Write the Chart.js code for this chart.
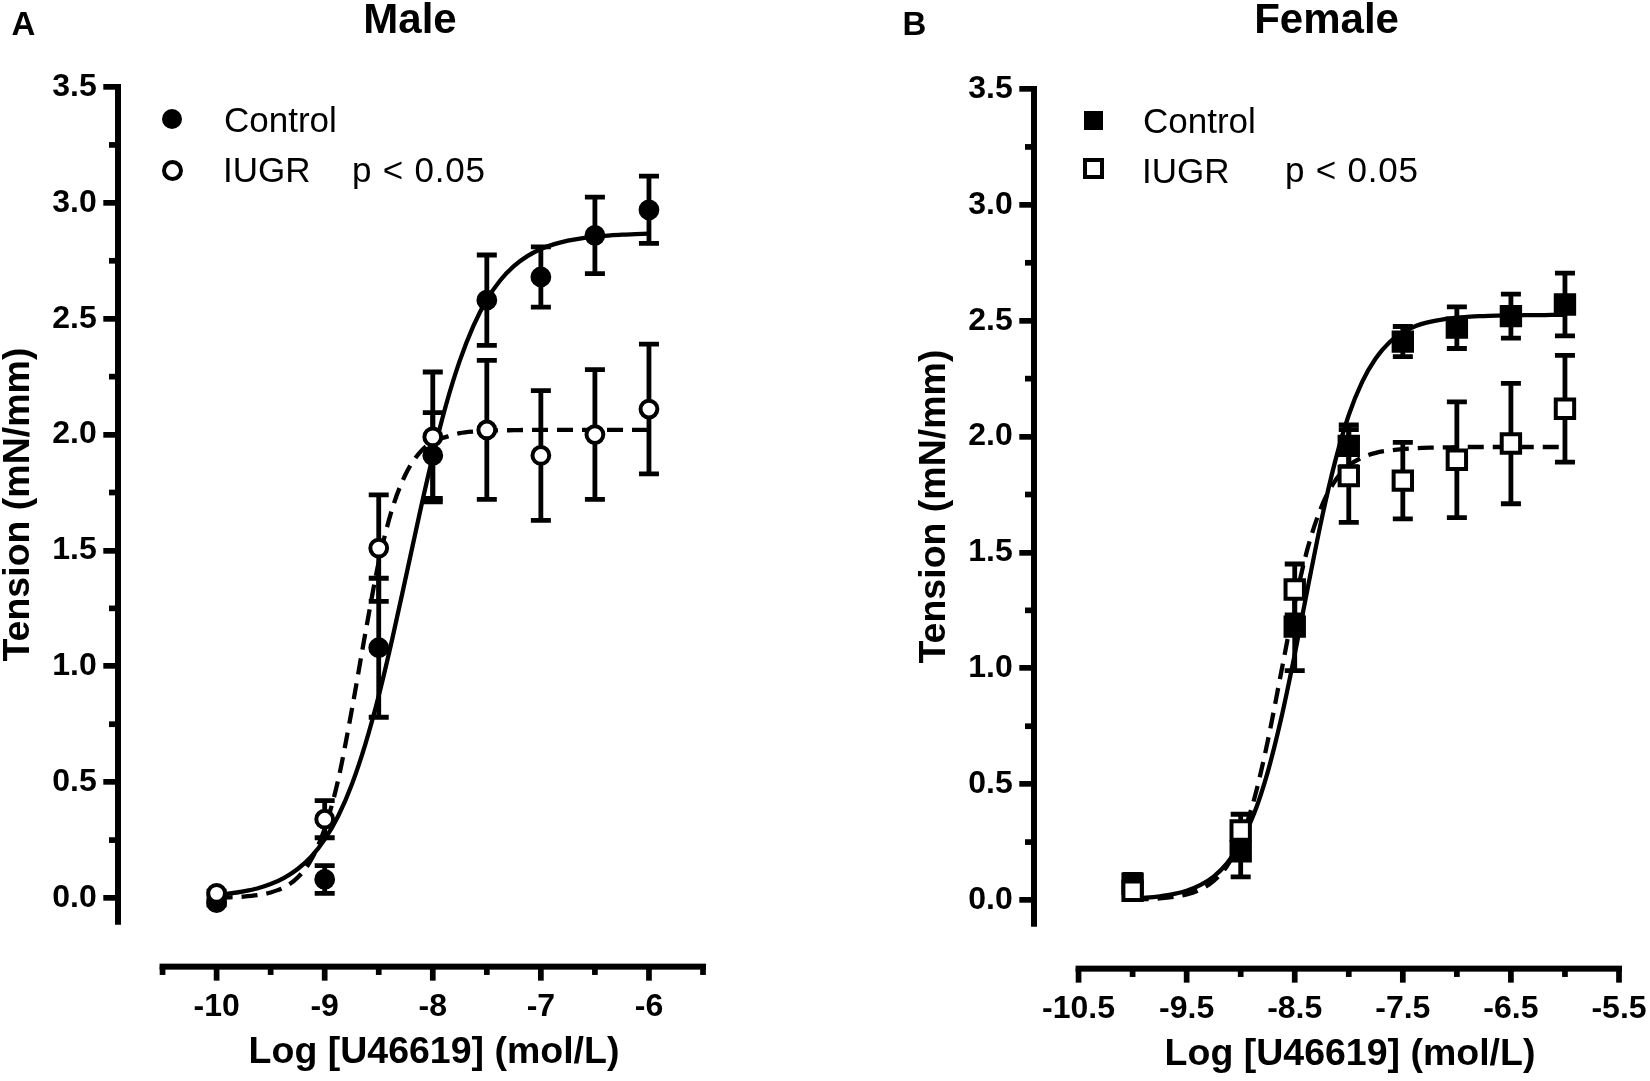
<!DOCTYPE html>
<html>
<head>
<meta charset="utf-8">
<script src="https://cdn.jsdelivr.net/npm/chart.js@4.4.1/dist/chart.umd.min.js"></script>
<style>
html,body{margin:0;padding:0;background:#fff;width:1650px;height:1081px;overflow:hidden;}
body{position:relative;font-family:"Liberation Sans",Arial,Helvetica,sans-serif;color:#000;}
canvas{position:absolute;}
.t{position:absolute;white-space:nowrap;line-height:1;}
.b{font-weight:bold;}
.title{font-size:42px;font-weight:bold;transform:translateX(-50%);}
.leg{font-size:35px;}
.mk{position:absolute;box-sizing:border-box;}
</style>
</head>
<body>
<canvas id="male" width="780" height="1081" style="left:0px;top:0px"></canvas>
<canvas id="female" width="780" height="1081" style="left:916px;top:2px"></canvas>

<div class="t b" style="left:11.5px;top:6.5px;font-size:33px;">A</div>
<div class="t b" style="left:902.5px;top:6.5px;font-size:33px;">B</div>
<div class="t title" style="left:410px;top:-2.2px;">Male</div>
<div class="t title" style="left:1326.6px;top:-2.2px;">Female</div>

<!-- legend male -->
<div class="mk" style="left:162px;top:109.3px;width:20px;height:20px;border-radius:50%;background:#000;"></div>
<div class="mk" style="left:161.5px;top:160.2px;width:21px;height:21px;border-radius:50%;background:#fff;border:4px solid #000;"></div>
<div class="t leg" style="left:224px;top:102px;">Control</div>
<div class="t leg" style="left:223px;top:152px;">IUGR</div>
<div class="t leg" style="left:352px;top:152px;letter-spacing:0.8px;">p &lt; 0.05</div>

<!-- legend female -->
<div class="mk" style="left:1083.5px;top:110.5px;width:19px;height:19px;background:#000;"></div>
<div class="mk" style="left:1082.5px;top:157.5px;width:21px;height:21px;background:#fff;border:4px solid #000;"></div>
<div class="t leg" style="left:1143px;top:103px;">Control</div>
<div class="t leg" style="left:1142px;top:153px;">IUGR</div>
<div class="t leg" style="left:1285px;top:152px;letter-spacing:0.8px;">p &lt; 0.05</div>

<script>
// ---------------- data ----------------
const doses = [-10, -9, -8.5, -8, -7.5, -7, -6.5, -6];

const maleControl    = [-0.02, 0.08, 1.08, 1.91, 2.58, 2.68, 2.86, 2.97];
const maleControlSem = [0.01, 0.06, 0.30, 0.185, 0.195, 0.13, 0.165, 0.145];
const maleIugr       = [0.02, 0.34, 1.51, 1.99, 2.02, 1.91, 2.00, 2.11];
const maleIugrSem    = [0.01, 0.08, 0.23, 0.28, 0.30, 0.28, 0.28, 0.28];

const femaleControl    = [0.07, 0.21, 1.18, 1.96, 2.41, 2.47, 2.52, 2.57];
const femaleControlSem = [0.04, 0.11, 0.19, 0.09, 0.065, 0.09, 0.095, 0.135];
const femaleIugr       = [0.04, 0.30, 1.34, 1.83, 1.81, 1.90, 1.97, 2.12];
const femaleIugrSem    = [0.03, 0.07, 0.11, 0.20, 0.165, 0.25, 0.26, 0.23];

// fitted curves
const curveX = [-10, -9.875, -9.75, -9.625, -9.5, -9.375, -9.25, -9.125, -9, -8.875, -8.75, -8.625,
                -8.5, -8.375, -8.25, -8.125, -8, -7.875, -7.75, -7.625, -7.5, -7.375, -7.25, -7.125,
                -7, -6.875, -6.75, -6.625, -6.5, -6.375, -6.25, -6.125, -6];
const maleControlCurve = [0.014, 0.020, 0.029, 0.041, 0.060, 0.087, 0.125, 0.178, 0.253, 0.354, 0.489, 0.662,
                          0.873, 1.118, 1.383, 1.652, 1.906, 2.132, 2.319, 2.468, 2.582, 2.666, 2.727, 2.770,
                          2.801, 2.822, 2.837, 2.847, 2.854, 2.859, 2.863, 2.865, 2.867];
const maleIugrCurve    = [0.002, 0.003, 0.006, 0.012, 0.024, 0.046, 0.088, 0.165, 0.30, 0.51, 0.81, 1.14,
                          1.45, 1.68, 1.83, 1.92, 1.97, 1.99, 2.006, 2.013, 2.016, 2.018, 2.019, 2.02,
                          2.02, 2.02, 2.02, 2.02, 2.02, 2.02, 2.02, 2.02, 2.02];
const femaleControlCurve = [0.006, 0.010, 0.016, 0.025, 0.040, 0.064, 0.101, 0.159, 0.247, 0.374, 0.552, 0.784,
                            1.060, 1.358, 1.646, 1.895, 2.093, 2.237, 2.338, 2.406, 2.449, 2.478, 2.495, 2.506,
                            2.513, 2.518, 2.520, 2.522, 2.523, 2.524, 2.524, 2.525, 2.525];
const femaleIugrCurve    = [0.002, 0.004, 0.007, 0.013, 0.024, 0.045, 0.082, 0.148, 0.26, 0.436, 0.685, 0.983,
                            1.28, 1.527, 1.70, 1.81, 1.875, 1.91, 1.93, 1.94, 1.946, 1.95, 1.952, 1.953,
                            1.954, 1.955, 1.955, 1.955, 1.955, 1.955, 1.955, 1.955, 1.955];

// ticks
const yTicks = [0, 0.5, 1, 1.5, 2, 2.5, 3, 3.5];
const yMinorTicks = [0.25, 0.75, 1.25, 1.75, 2.25, 2.75, 3.25];
const maleXTicks = [-10, -9, -8, -7, -6];
const maleXMinor = [-10.5, -9.5, -8.5, -7.5, -6.5, -5.5];
const femaleXTicks = [-10.5, -9.5, -8.5, -7.5, -6.5, -5.5];
const femaleXMinor = [-10, -9, -8, -7, -6];

const xTitle = 'Log [U46619] (mol/L)';
const yTitle = 'Tension (mN/mm)';

// ---------------- drawing ----------------
const FONT = '"Liberation Sans", Arial, Helvetica, sans-serif';

const errorBars = {
  id: 'errorBars',
  beforeDatasetDraw(chart, args) {
    const ds = chart.data.datasets[args.index];
    if (!ds.errors) return;
    const xs = chart.scales.x, ys = chart.scales.y, ctx = chart.ctx;
    ctx.save();
    ctx.strokeStyle = '#000';
    ctx.lineWidth = 4.8;
    ctx.lineCap = 'butt';
    ds.data.forEach((p, i) => {
      const e = ds.errors[i];
      if (!e) return;
      const px = xs.getPixelForValue(p.x);
      const top = ys.getPixelForValue(p.y + e);
      const bot = ys.getPixelForValue(p.y - e);
      ctx.beginPath();
      ctx.moveTo(px, top); ctx.lineTo(px, bot);
      ctx.moveTo(px - 10, top); ctx.lineTo(px + 10, top);
      ctx.moveTo(px - 10, bot); ctx.lineTo(px + 10, bot);
      ctx.stroke();
    });
    ctx.restore();
  }
};

const axesExtra = {
  id: 'axesExtra',
  afterDraw(chart) {
    const o = chart.options.plugins.axesExtra;
    const xs = chart.scales.x, ys = chart.scales.y, ctx = chart.ctx, ca = chart.chartArea;
    ctx.save();
    ctx.fillStyle = '#000';
    // detached x axis
    const ly = ca.bottom + o.xAxisGap;
    const all = o.major.concat(o.minor);
    const x0 = xs.getPixelForValue(Math.min(...all)) - 3;
    const x1 = xs.getPixelForValue(Math.max(...all)) + 3;
    ctx.fillRect(x0, ly - 3, x1 - x0, 6);
    o.major.forEach(v => { const px = xs.getPixelForValue(v); ctx.fillRect(px - 2.85, ly, 5.7, 14); });
    o.minor.forEach(v => { const px = xs.getPixelForValue(v); ctx.fillRect(px - 2.85, ly, 5.7, 8.3); });
    // y minor ticks
    yMinorTicks.forEach(v => { const py = ys.getPixelForValue(v); ctx.fillRect(ca.left - 8.7, py - 2.85, 8.7, 5.7); });
    ctx.restore();
  }
};

function makeChart(id, c) {
  const pts = (xs, vs) => xs.map((x, i) => ({x: x, y: vs[i]}));
  return new Chart(document.getElementById(id), {
    type: 'scatter',
    data: {
      datasets: [
        {label: 'Control fit', data: pts(curveX, c.controlCurve), showLine: true, borderColor: '#000',
         borderWidth: 4.3, pointRadius: 0, cubicInterpolationMode: 'monotone', order: 4},
        {label: 'IUGR fit', data: pts(curveX, c.iugrCurve), showLine: true, borderColor: '#000',
         borderWidth: 4.3, borderDash: [16, 9], pointRadius: 0, cubicInterpolationMode: 'monotone', order: 3},
        {label: 'Control', data: pts(doses, c.control), errors: c.controlSem, showLine: false,
         pointStyle: c.style, pointRadius: c.r, backgroundColor: '#000', borderColor: '#000', borderWidth: 4, order: 2},
        {label: 'IUGR', data: pts(doses, c.iugr), errors: c.iugrSem, showLine: false,
         pointStyle: c.style, pointRadius: c.r, backgroundColor: '#fff', borderColor: '#000', borderWidth: 4, order: 1}
      ]
    },
    options: {
      responsive: false,
      animation: false,
      events: [],
      layout: {padding: {top: 87, right: 29.7, bottom: 5.8, left: 0}},
      plugins: {
        legend: {display: false},
        tooltip: {enabled: false},
        axesExtra: {major: c.xTicks, minor: c.xMinor, xAxisGap: 44.5}
      },
      scales: {
        x: {
          type: 'linear', bounds: 'data', min: -10.915, max: -5.0624,
          afterBuildTicks: s => { s.ticks = c.xTicks.map(v => ({value: v})); },
          afterFit: s => { s.height = 153.05; s.paddingLeft = 0; s.paddingRight = 0; },
          grid: {display: false, drawTicks: false},
          border: {display: false},
          ticks: {autoSkip: false, maxRotation: 0, minRotation: 0, padding: 65.5, color: '#000',
                  font: {family: FONT, size: 32, weight: 'bold'}, callback: c.xFmt},
          title: {display: true, text: xTitle, color: '#000', padding: 0,
                  font: {family: FONT, size: 37.5, weight: 'bold'}}
        },
        y: {
          type: 'linear', bounds: 'data', min: -0.1042, max: 3.5,
          afterBuildTicks: s => { s.ticks = yTicks.map(v => ({value: v})); },
          afterFit: s => { s.width = 117.7; s.paddingTop = 0; s.paddingBottom = 0; },
          grid: {display: true, drawOnChartArea: false, drawTicks: true, tickLength: 14.4,
                 lineWidth: 5.7, tickWidth: 5.7, color: '#000', tickColor: '#000'},
          border: {display: true, width: 6, color: '#000'},
          ticks: {padding: 6.6, color: '#000', font: {family: FONT, size: 32, weight: 'bold'},
                  callback: v => Number(v).toFixed(1)},
          title: {display: true, text: yTitle, color: '#000', padding: 0,
                  font: {family: FONT, size: 37.5, weight: 'bold', lineHeight: 1.0}}
        }
      }
    },
    plugins: [errorBars, axesExtra]
  });
}

makeChart('male', {
  control: maleControl, controlSem: maleControlSem, iugr: maleIugr, iugrSem: maleIugrSem,
  controlCurve: maleControlCurve, iugrCurve: maleIugrCurve,
  xTicks: maleXTicks, xMinor: maleXMinor, xFmt: v => String(v),
  style: 'circle', r: 8.4
});
makeChart('female', {
  control: femaleControl, controlSem: femaleControlSem, iugr: femaleIugr, iugrSem: femaleIugrSem,
  controlCurve: femaleControlCurve, iugrCurve: femaleIugrCurve,
  xTicks: femaleXTicks, xMinor: femaleXMinor, xFmt: v => Number(v).toFixed(1),
  style: 'rect', r: 13
});
</script>
</body>
</html>
